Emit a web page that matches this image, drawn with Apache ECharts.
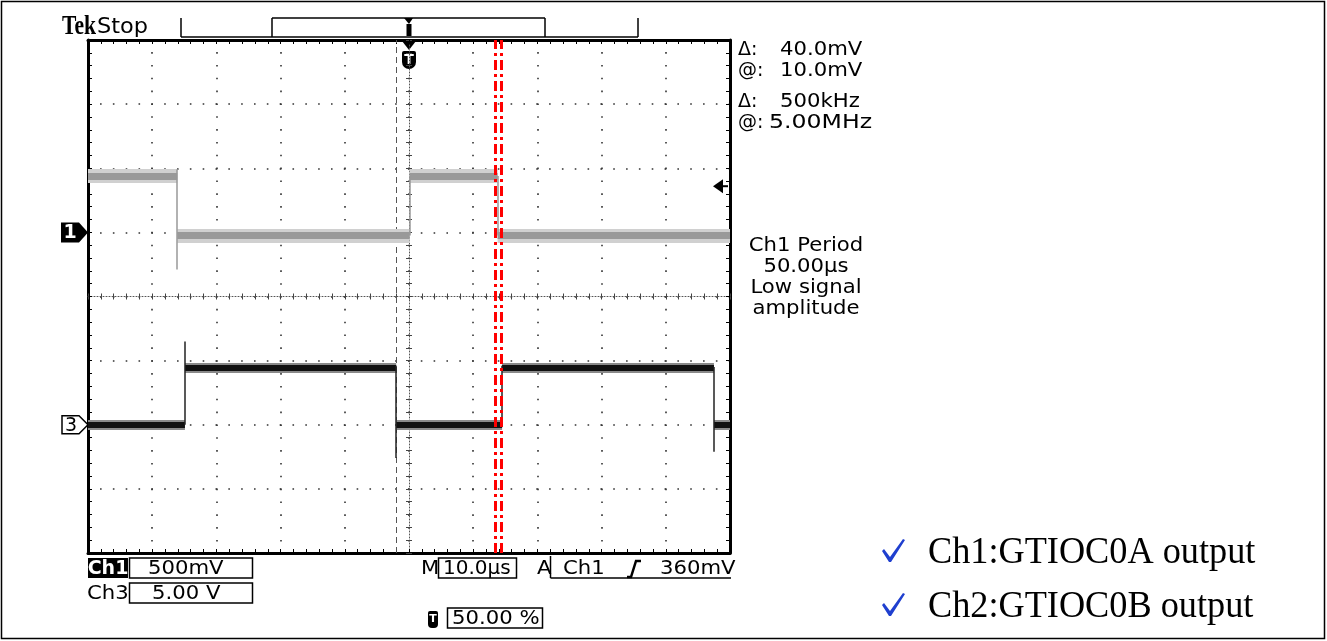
<!DOCTYPE html>
<html>
<head>
<meta charset="utf-8">
<script src="https://cdn.jsdelivr.net/npm/echarts@6/dist/echarts.min.js"></script>
<style>
html,body{margin:0;padding:0;background:#fff;}
#chart{width:1327px;height:641px;}
</style>
</head>
<body>
<div id="chart"></div>
<script>
// ---- scope settings ----
const timeRange = [-50, 50];          // µs (10 µs/div, trigger at 50%)
const timePerDiv = 10;                // µs/div
const divRange = [-4, 4];             // vertical divisions
const ch1Scale = 500;                 // mV/div
const ch1Offset = 1;                  // div (ground marker "1")
const ch3Scale = 5;                   // V/div
const ch3Offset = -2;                 // div (ground marker "3")
const triggerLevel = 360;             // mV on Ch1
const triggerTime = 0;                // µs

// ---- Ch1 (GTIOC0A), mV ----
const ch1EdgeTimes = [-36.1, 0.1, 13.8];
const ch1Levels = [440, -25, 440, -25];
const ch1EdgeExtremes = [[-290, 490], [-25, 440], [-25, 440]];

// ---- Ch3 (GTIOC0B), V ----
const ch3EdgeTimes = [-34.9, -2.0, 14.5, 47.5];
const ch3Levels = [0, 4.45, 0, 4.45, 0];
const ch3EdgeExtremes = [[0, 6.5], [-2.6, 4.6], [0, 4.6], [-2.1, 4.5]];

// ---- cursors ----
const cursorTimes = [13.4, 14.3];
const markerTimes = [-2.0];

// ---- readouts ----
const readouts = ['40.0mV', '10.0mV', '500kHz', '5.00MHz'];
const measureLines = ['Ch1 Period', '50.00µs', 'Low signal', 'amplitude'];
const legendLines = ['Ch1:GTIOC0A output', 'Ch2:GTIOC0B output'];

const ch1Div = v => ch1Offset + v / ch1Scale;
const ch3Div = v => ch3Offset + v / ch3Scale;

function levelSegs(edges, levels, conv) {
  const b = [timeRange[0], ...edges, timeRange[1]];
  return levels.map((v, i) => ({coords: [[b[i], conv(v)], [b[i + 1], conv(v)]]}));
}
function edgeSegs(edges, ext, conv) {
  return edges.map((t, i) => ({coords: [[t, conv(ext[i][0])], [t, conv(ext[i][1])]]}));
}
function vLines(times) {
  return times.map(t => ({coords: [[t, divRange[0]], [t, divRange[1]]]}));
}
function linesSeries(data, color, width, type) {
  return {
    type: 'lines', coordinateSystem: 'cartesian2d', xAxisIndex: 0, yAxisIndex: 0,
    polyline: false, silent: true, data: data,
    lineStyle: {color: color, width: width, opacity: 1, type: type || 'solid', cap: 'butt'}
  };
}

const FONT = '"DejaVu Sans", sans-serif';
const grid = {left: 88, right: 597, top: 40, bottom: 88};

function frameAxis(extra) {
  return Object.assign({
    type: 'value', gridIndex: 0,
    axisLine: {show: true, onZero: false, lineStyle: {color: '#000', width: 3}},
    axisTick: {show: true, inside: true, length: 4, lineStyle: {color: '#000', width: 1}},
    minorTick: {show: true, splitNumber: 5, length: 4, lineStyle: {color: '#000', width: 1}},
    axisLabel: {show: false},
    splitLine: {show: false}
  }, extra);
}
function centerAxis(gi, inside, extra) {
  return Object.assign({
    type: 'value', gridIndex: gi,
    axisLine: {show: inside, onZero: true, lineStyle: {color: '#555', width: 1, type: [1, 2]}},
    axisTick: {show: true, inside: inside, length: 3, lineStyle: {color: '#444', width: 1}},
    minorTick: {show: true, splitNumber: 5, length: 3, lineStyle: {color: '#444', width: 1}},
    axisLabel: {show: false},
    splitLine: {show: false}
  }, extra);
}
const xCommon = {min: timeRange[0], max: timeRange[1], interval: timePerDiv};
const yCommon = {min: divRange[0], max: divRange[1], interval: 1};

const chart = echarts.init(document.getElementById('chart'), null, {renderer: 'canvas'});
chart.setOption({
  backgroundColor: '#fff',
  animation: false,
  grid: [grid, grid, grid],
  xAxis: [
    frameAxis(Object.assign({position: 'bottom',
      splitLine: {show: true, lineStyle: {color: '#333', width: 1.6, type: [1.6, 11.24], dashOffset: 0.8}}}, xCommon)),
    frameAxis(Object.assign({position: 'top'}, xCommon)),
    centerAxis(1, true, Object.assign({position: 'bottom'}, xCommon)),
    centerAxis(2, false, Object.assign({position: 'bottom'}, xCommon))
  ],
  yAxis: [
    frameAxis(Object.assign({position: 'left',
      splitLine: {show: true, lineStyle: {color: '#333', width: 1.6, type: [1.6, 11.23], dashOffset: 0.8}}}, yCommon)),
    frameAxis(Object.assign({position: 'right'}, yCommon)),
    centerAxis(1, true, Object.assign({position: 'left'}, yCommon)),
    centerAxis(2, false, Object.assign({position: 'left'}, yCommon))
  ],
  series: [
    linesSeries(vLines(markerTimes), '#555', 1, [6, 4]),
    linesSeries(levelSegs(ch1EdgeTimes, ch1Levels, ch1Div), '#d0d0d0', 14),
    linesSeries(levelSegs(ch1EdgeTimes, ch1Levels, ch1Div), '#999', 7),
    linesSeries(edgeSegs(ch1EdgeTimes, ch1EdgeExtremes, ch1Div), '#999', 1.5),
    linesSeries(levelSegs(ch3EdgeTimes, ch3Levels, ch3Div), '#8a8a8a', 10),
    linesSeries(levelSegs(ch3EdgeTimes, ch3Levels, ch3Div), '#111', 6),
    linesSeries(edgeSegs(ch3EdgeTimes, ch3EdgeExtremes, ch3Div), '#222', 1.5),
    linesSeries(vLines(cursorTimes), '#ff0000', 3, [10, 4, 3, 4])
  ]
});

// ---- annotations (positions tied to axes where relevant) ----
const px = (x, y) => chart.convertToPixel({xAxisIndex: 0, yAxisIndex: 0}, [x, y]);
const g = [];
function txt(text, x, y, font, opts, sx) {
  g.push({type: 'text', x: x, y: y, silent: true, scaleX: sx || 1,
    style: Object.assign({text: text, font: font, fill: '#000', textAlign: 'left', textVerticalAlign: 'middle'}, (opts || {}))});
}
function stxt(text, x, y, opts, sx) { txt(text, x, y, '20px ' + FONT, opts, sx || 1.06); }
function rect(x, y, w, h, fill, stroke) {
  g.push({type: 'rect', silent: true, shape: {x: x, y: y, width: w, height: h},
    style: {fill: fill || 'none', stroke: stroke || 'none', lineWidth: 1.5}});
}
function poly(points, fill, stroke) {
  g.push({type: 'polygon', silent: true, shape: {points: points},
    style: {fill: fill, stroke: stroke || 'none', lineWidth: 1.5}});
}
function line(x1, y1, x2, y2, w) {
  g.push({type: 'line', silent: true, shape: {x1: x1, y1: y1, x2: x2, y2: y2},
    style: {stroke: '#000', lineWidth: w || 1.5}});
}

// outer border
rect(1.5, 1.5, 1323, 637, 'none', '#000');

// header
txt('Tek', 62, 27, 'bold 27px "Liberation Serif", serif', {}, 0.8);
txt('Stop', 97, 27, '22px ' + FONT, {}, 1.02);

// record bar
const tr = px(timeRange[1], divRange[1]);
const tt = px(triggerTime, divRange[1]);
line(181, 37, 638, 37, 1.5);
line(181, 18, 181, 37, 1.5);
line(638, 18, 638, 37, 1.5);
line(272, 18, 545, 18, 1.5);
line(272, 18, 272, 37, 1.5);
line(545, 18, 545, 37, 1.5);
poly([[tt[0] - 5, 18], [tt[0] + 4, 18], [tt[0], 24]], '#000');
rect(tt[0] - 2.5, 24, 5, 12, '#000');

// trigger position marker under top frame
poly([[tt[0] - 7, tt[1] + 1], [tt[0] + 7, tt[1] + 1], [tt[0], tt[1] + 10]], '#000');
g.push({type: 'rect', silent: true, shape: {x: tt[0] - 7, y: tt[1] + 11, width: 14, height: 18, r: [2, 2, 7, 7]}, style: {fill: '#000'}});
txt('T', tt[0], tt[1] + 20, 'bold 14px ' + FONT, {fill: '#fff', textAlign: 'center'});

// channel ground markers
const c1 = px(timeRange[0], ch1Offset);
poly([[c1[0] - 27, c1[1] - 10], [c1[0] - 9, c1[1] - 10], [c1[0], c1[1]], [c1[0] - 9, c1[1] + 10], [c1[0] - 27, c1[1] + 10]], '#000');
txt('1', c1[0] - 18, c1[1] + 1, 'bold 19px ' + FONT, {fill: '#fff', textAlign: 'center'});
const c3 = px(timeRange[0], ch3Offset);
poly([[c3[0] - 26, c3[1] - 9], [c3[0] - 9, c3[1] - 9], [c3[0], c3[1]], [c3[0] - 9, c3[1] + 9], [c3[0] - 26, c3[1] + 9]], '#fff', '#000');
txt('3', c3[0] - 17, c3[1] + 1, '19px ' + FONT, {textAlign: 'center'});

// trigger level arrow
const tg = px(timeRange[1], ch1Div(triggerLevel));
poly([[tg[0] - 17, tg[1]], [tg[0] - 7, tg[1] - 7], [tg[0] - 7, tg[1] + 7]], '#000');
line(tg[0] - 8, tg[1], tg[0] - 2, tg[1], 2);

// right readouts
const rx = tr[0] + 8;
['Δ:', '@:', 'Δ:', '@:'].forEach((s, i) => stxt(s, rx, [50, 71, 102, 123][i], {}, 0.95));
stxt(readouts[0], 780, 50);
stxt(readouts[1], 780, 71);
stxt(readouts[2], 780, 102);
stxt(readouts[3], 769, 123, {}, 1.18);
measureLines.forEach((s, i) => stxt(s, 806, 246 + i * 21, {textAlign: 'center'}));

// bottom readouts
rect(88, 558, 40, 20, '#000');
txt('Ch1', 108, 568.5, 'bold 20px ' + FONT, {fill: '#fff', textAlign: 'center'}, 0.95);
rect(129.5, 558, 123, 20, 'none', '#000');
stxt('500mV', 148, 568.5);
stxt('Ch3', 87, 593.5);
rect(129.5, 583, 123, 20, 'none', '#000');
stxt('5.00 V', 152, 593.5);
stxt('M', 421, 568.5);
rect(438.5, 558, 78, 20, 'none', '#000');
txt('10.0µs', 443, 568.5, '20px ' + FONT, {}, 1.0);
stxt('A', 537, 568.5);
line(550.5, 556, 550.5, 578, 1.5);
line(550.5, 578, 731, 578, 1.5);
stxt('Ch1', 563, 568.5);
g.push({type: 'polyline', silent: true, shape: {points: [[627, 577], [631, 577], [636, 561], [641, 561]]}, style: {stroke: '#000', lineWidth: 2.5, fill: 'none'}});
stxt('360mV', 660, 568.5);
g.push({type: 'rect', silent: true, shape: {x: 428, y: 611, width: 10, height: 17, r: [2, 2, 4, 4]}, style: {fill: '#000'}});
txt('T', 433, 619, 'bold 11px ' + FONT, {fill: '#fff', textAlign: 'center'});
rect(447.5, 608, 95, 20, 'none', '#000');
stxt('50.00 %', 452, 618.5);

// legend notes
legendLines.forEach((s, i) => {
  const y = 551 + i * 54;
  poly([[882, y], [884, y - 2], [890, y + 6], [903, y - 12], [905, y - 11], [891, y + 11], [889, y + 11]], '#1f3fcf');
  txt(s, 928, y + 2, '37px "Liberation Serif", "Times New Roman", serif', {}, 0.98);
});

chart.setOption({graphic: g});
</script>
</body>
</html>
